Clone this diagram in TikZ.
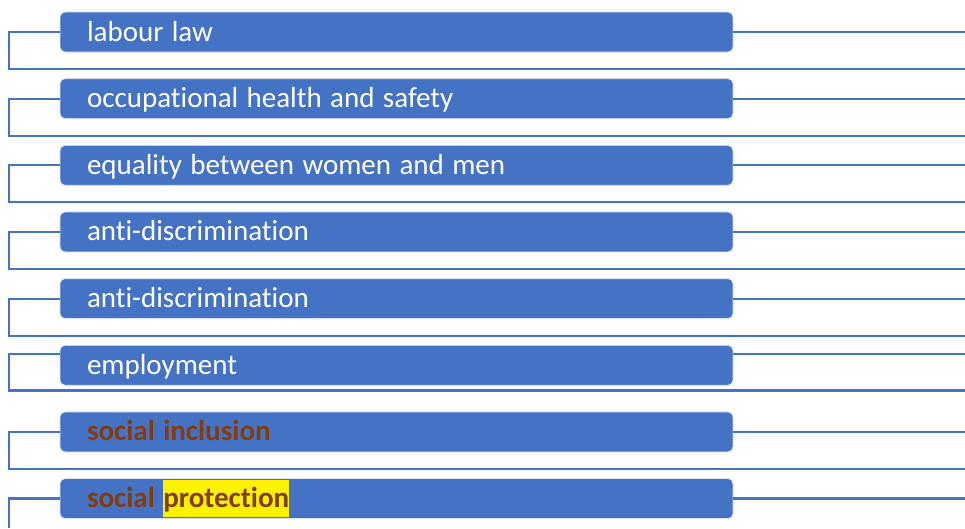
\documentclass[tikz,border=0pt]{standalone}
\usepackage{fontspec}
\setmainfont{Carlito}[Ligatures={NoCommon,NoRequired,NoContextual}]
\definecolor{officeblue}{HTML}{4472C4}
\definecolor{rust}{HTML}{843C0C}
\tikzset{
    topic/.style={rectangle, rounded corners=5pt, fill=officeblue, draw=white!80!officeblue, line width=0.8pt,
        minimum width=673pt, minimum height=40pt, inner xsep=27pt, inner ysep=0pt, text width=619pt, align=left,
        text height=22pt, text depth=4pt, text=white, font=\fontsize{29pt}{31pt}\selectfont,
        execute at begin node={\spaceskip=0.29em\xspaceskip=0.29em\relax}},
    link/.style={draw=officeblue, line width=2.2pt},
}
\setlength{\fboxsep}{0pt}
\begin{document}
\begin{tikzpicture}[x=1pt, y=-1pt]
    \useasboundingbox (0,0) rectangle (965,528);
    \coordinate (edge) at (965,0);

    \node[topic] (b1) at (396.5,32) {labour law};
    \node[topic, yshift=-66.65pt] (b2) at (b1) {occupational health and safety};
    \node[topic, yshift=-66.65pt] (b3) at (b2) {equality between women and men};
    \node[topic, yshift=-66.65pt] (b4) at (b3) {anti-discrimination};
    \node[topic, yshift=-66.65pt] (b5) at (b4) {anti-discrimination};
    \node[topic, yshift=-66.65pt] (b6) at (b5) {employment};
    \node[topic, yshift=-66.65pt] (b7) at (b6) {\textcolor{rust}{\bfseries social inclusion}};
    \node[topic, yshift=-66.65pt] (b8) at (b7) {\textcolor{rust}{\bfseries social \colorbox{yellow}{\rule[-9pt]{0pt}{37pt}protection}}};

    % bottom rails
    \coordinate (c1) at (9,69);    \coordinate (d1) at (965,69);
    \coordinate (c2) at (9,136);   \coordinate (d2) at (965,136);
    \coordinate (c3) at (9,202);   \coordinate (d3) at (965,202);
    \coordinate (c4) at (9,269);   \coordinate (d4) at (965,269);
    \coordinate (c5) at (9,336);   \coordinate (d5) at (965,336);
    \coordinate (c6) at (9,390.5); \coordinate (d6) at (965,390.5);
    \coordinate (c7) at (9,469);   \coordinate (d7) at (965,469);
    \coordinate (c8) at (9,528);

    \draw[link] (b1.west) -| (c1) -- (d1);
    \draw[link] (b2.west) -| (c2) -- (d2);
    \draw[link] (b3.west) -| (c3) -- (d3);
    \draw[link] (b4.west) -| (c4) -- (d4);
    \draw[link] (b5.west) -| (c5) -- (d5);
    \draw[link] ([yshift=11.5pt]b6.west) -| (c6) -- (d6);
    \draw[link] (b7.west) -| (c7) -- (d7);
    \draw[link] (b8.west) -| (c8);

    \draw[link] (b1.east) -- (b1.east -| edge);
    \draw[link] (b2.east) -- (b2.east -| edge);
    \draw[link] (b3.east) -- (b3.east -| edge);
    \draw[link] (b4.east) -- (b4.east -| edge);
    \draw[link] (b5.east) -- (b5.east -| edge);
    \draw[link] ([yshift=11.5pt]b6.east) -- ([yshift=11.5pt]b6.east -| edge);
    \draw[link] (b7.east) -- (b7.east -| edge);
    \draw[link] (b8.east) -- (b8.east -| edge);
\end{tikzpicture}
\end{document}
